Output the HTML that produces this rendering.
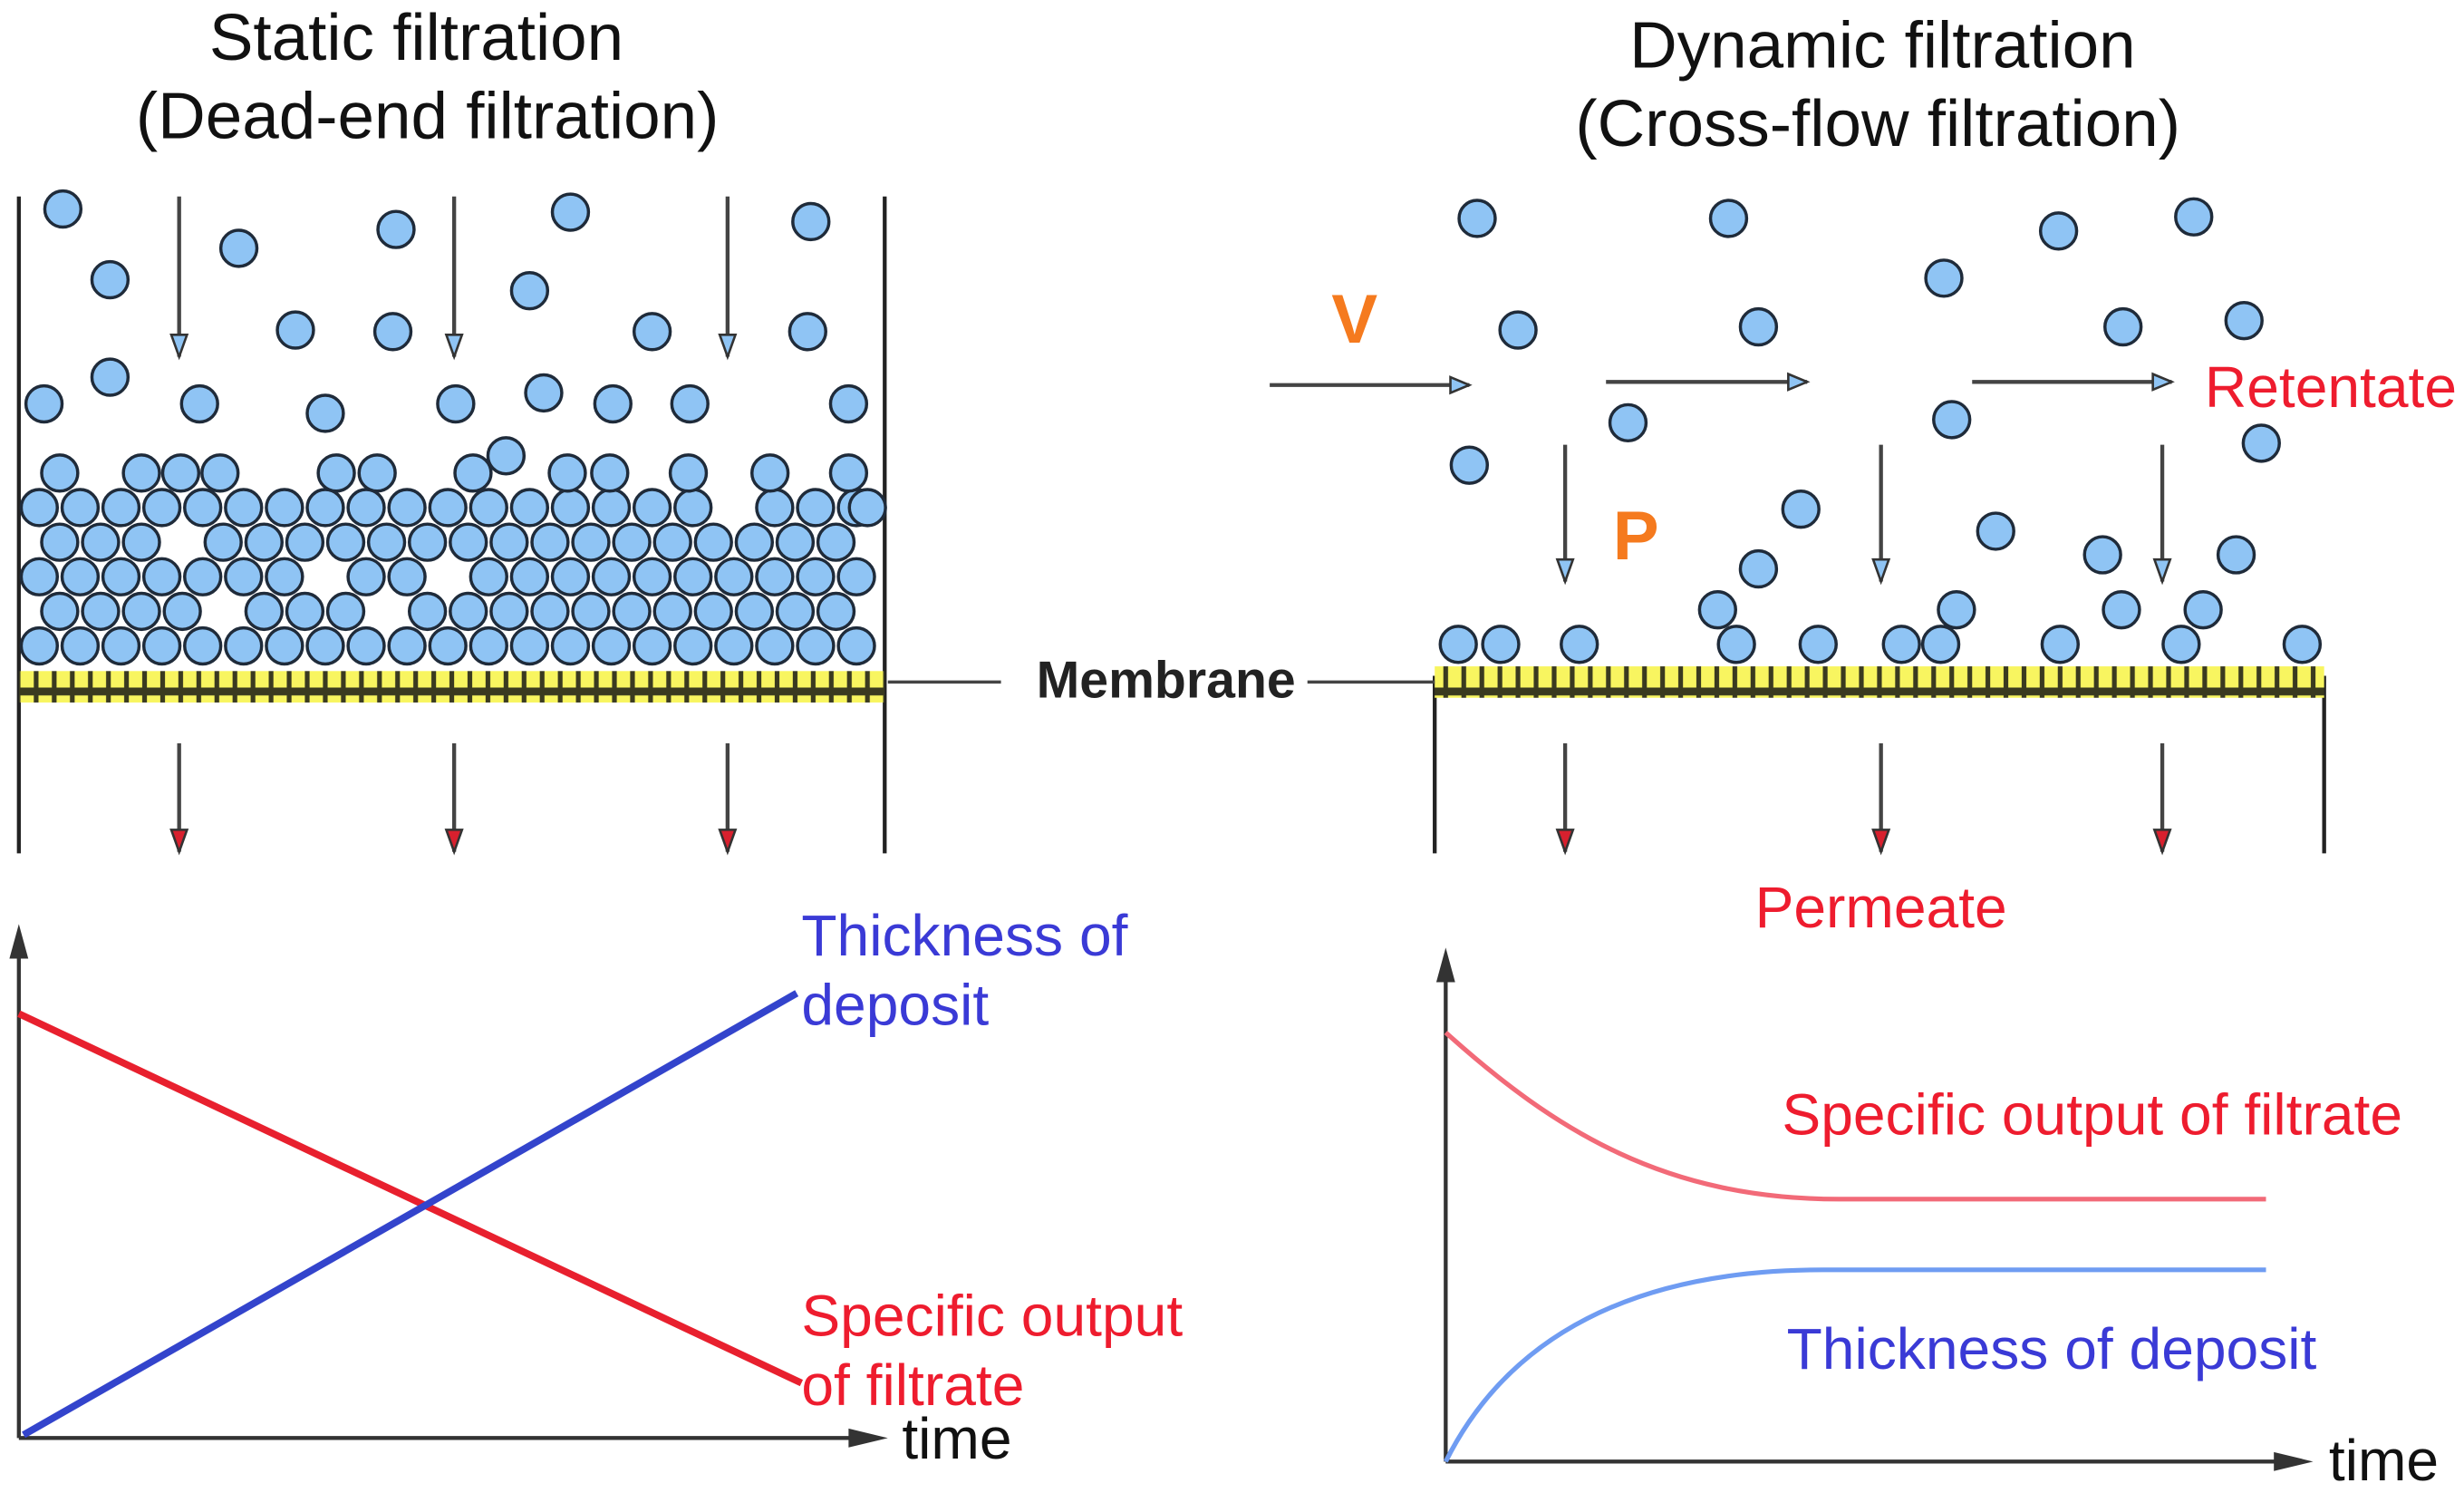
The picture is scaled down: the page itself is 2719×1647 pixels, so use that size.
<!DOCTYPE html>
<html><head><meta charset="utf-8"><style>
html,body{margin:0;padding:0;background:#fff;width:2719px;height:1647px;overflow:hidden}
svg{display:block}
text{font-family:"Liberation Sans",sans-serif}
</style></head><body>
<svg id="s" width="2719" height="1647" viewBox="0 0 1568 950" preserveAspectRatio="none" xmlns="http://www.w3.org/2000/svg">
<defs>
<pattern id="mem" x="0" y="0" width="11.5" height="20" patternUnits="userSpaceOnUse">
<rect width="11.5" height="20" fill="#3a3a20"/><rect x="1.5" y="2.5" width="8.5" height="15" fill="#f8f560"/>
</pattern>
</defs>
<!-- titles -->
<text x="265" y="38" font-size="42" text-anchor="middle" fill="#111">Static filtration</text>
<text x="272" y="88" font-size="42" text-anchor="middle" fill="#111">(Dead-end filtration)</text>
<text x="1198" y="43" font-size="42" text-anchor="middle" fill="#111">Dynamic filtration</text>
<text x="1195" y="93" font-size="42" text-anchor="middle" fill="#111">(Cross-flow filtration)</text>
<!-- walls -->
<g stroke="#222" stroke-width="2.5">
<line x1="12" y1="125" x2="12" y2="543"/><line x1="563" y1="125" x2="563" y2="543"/>
<line x1="913" y1="430" x2="913" y2="543"/><line x1="1479" y1="430" x2="1479" y2="543"/>
</g>
<rect x="12" y="427" width="551" height="20" fill="url(#mem)"/>
<rect x="913" y="424" width="566" height="20" fill="url(#mem)"/>
<g stroke="#444" stroke-width="2"><line x1="565" y1="434" x2="637" y2="434"/><line x1="832" y1="434" x2="913" y2="434"/></g>
<text x="742" y="444" font-size="33" font-weight="bold" text-anchor="middle" fill="#222">Membrane</text>
<g id="parts" fill="#8fc4f4" stroke="#1f2b3a" stroke-width="2"></g>
<g id="arrows"></g>
<text x="862" y="218" font-size="44" font-weight="bold" text-anchor="middle" fill="#f57a1e">V</text>
<text x="1041" y="356" font-size="44" font-weight="bold" text-anchor="middle" fill="#f57a1e">P</text>
<text x="1403" y="259" font-size="37" fill="#ee1c2e">Retentate</text>
<text x="1197" y="590" font-size="37" text-anchor="middle" fill="#ee1c2e">Permeate</text>
<!-- axes -->
<g stroke="#333" stroke-width="2.5" fill="#333">
<line x1="12" y1="600" x2="12" y2="915"/><polygon points="12,588 6,610 18,610" stroke="none"/>
<line x1="12" y1="915" x2="545" y2="915"/><polygon points="565,915 540,909 540,921" stroke="none"/>
<line x1="920" y1="615" x2="920" y2="930"/><polygon points="920,603 914,625 926,625" stroke="none"/>
<line x1="920" y1="930" x2="1450" y2="930"/><polygon points="1472,930 1447,924 1447,936" stroke="none"/>
</g>
<line x1="12" y1="645" x2="510" y2="880" stroke="#e8202e" stroke-width="4.5"/>
<line x1="15" y1="913" x2="507" y2="632" stroke="#3344cc" stroke-width="4.5"/>
<text x="510" y="608" font-size="37" fill="#3a3ad6">Thickness of</text>
<text x="510" y="652" font-size="37" fill="#3a3ad6">deposit</text>
<text x="510" y="850" font-size="37" fill="#ee1c2e">Specific output</text>
<text x="510" y="894" font-size="37" fill="#ee1c2e">of filtrate</text>
<text x="574" y="928" font-size="37" fill="#111">time</text>
<path d="M920,657 C990,720 1060,763 1170,763 L1442,763" fill="none" stroke="#f26a78" stroke-width="3"/>
<path d="M920,930 C960,850 1040,808 1160,808 L1442,808" fill="none" stroke="#6f9cf2" stroke-width="3"/>
<text x="1134" y="722" font-size="37" fill="#ee1c2e">Specific output of filtrate</text>
<text x="1137" y="871" font-size="37" fill="#3a3ad6">Thickness of deposit</text>
<text x="1482" y="942" font-size="37" fill="#111">time</text>
</svg>
<script>
var NS="http://www.w3.org/2000/svg",P=document.getElementById("parts"),A=document.getElementById("arrows");
function c(x,y){var e=document.createElementNS(NS,"circle");e.setAttribute("cx",x);e.setAttribute("cy",y);e.setAttribute("r",11.5);P.appendChild(e);}
var free=[[40,133],[70,178],[152,158],[252,146],[363,135],[516,141],[337,185],[188,210],[250,211],[415,211],[514,211],[70,240],[28,257],[127,257],[207,263],[290,257],[346,250],[390,257],[439,257],[540,257],[322,290],
[940,139],[1100,139],[1310,147],[1396,138],[1237,177],[966,210],[1119,208],[1351,208],[1428,204],[1036,269],[1242,267],[1439,282],[935,296],[1146,324],[1270,338],[1119,362],[1338,353],[1423,353],[1093,388],[1245,388],[1350,388],[1402,388],[928,410],[955,410],[1005,410],[1105,410],[1157,410],[1210,410],[1235,410],[1311,410],[1388,410],[1465,410]];
free.forEach(function(p){c(p[0],p[1]);});
var holes={"1,4":1,"2,7":1,"3,3":1,"2,10":1,"4,17":1,"1,8":1};
for(var r=0;r<5;r++){var y=411-r*22,x0=(r%2==0)?25:38;for(var i=0;x0+i*26<=552;i++){if(holes[r+","+i])continue;c(x0+i*26,y);}}
[38,90,115,140,214,240,301,361,388,438,490,540].forEach(function(x){c(x,301);});
c(552,323);
function arr(x1,y1,x2,y2,head){var l=document.createElementNS(NS,"line");l.setAttribute("x1",x1);l.setAttribute("y1",y1);l.setAttribute("x2",x2);l.setAttribute("y2",y2);l.setAttribute("stroke","#444");l.setAttribute("stroke-width","2.5");A.appendChild(l);
var p=document.createElementNS(NS,"polygon");var pts;if(y1==y2){pts=(x2-12)+","+(y2-5)+" "+x2+","+y2+" "+(x2-12)+","+(y2+5);}else{pts=(x2-5)+","+(y2-14)+" "+x2+","+y2+" "+(x2+5)+","+(y2-14);}
p.setAttribute("points",pts);p.setAttribute("fill",head);p.setAttribute("stroke","#333");p.setAttribute("stroke-width","1.5");A.appendChild(p);}
[114,289,463].forEach(function(x){arr(x,125,x,227,"#8fc4f4");arr(x,473,x,542,"#d8202e");});
[996,1197,1376].forEach(function(x){arr(x,283,x,370,"#8fc4f4");arr(x,473,x,542,"#d8202e");});
arr(808,245,935,245,"#8fc4f4");arr(1022,243,1150,243,"#8fc4f4");arr(1255,243,1382,243,"#8fc4f4");
</script>
</body></html>
